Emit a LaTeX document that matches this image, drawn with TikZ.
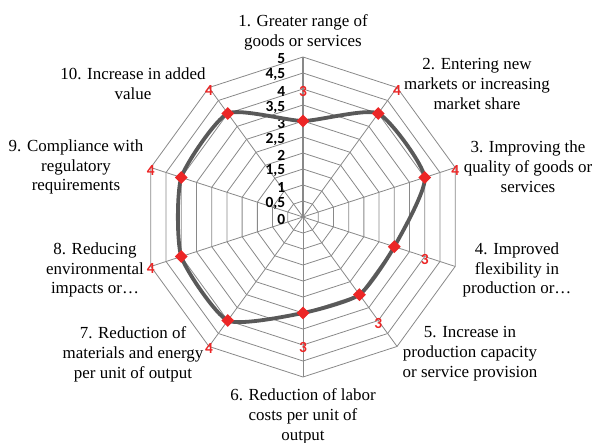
\documentclass[tikz,border=0pt]{standalone}
\usepackage{fontspec}
\setmainfont{Liberation Serif}
\newfontfamily\lblfont{Liberation Serif}
\newfontfamily\numfont{Carlito}
\usetikzlibrary{shapes.geometric}
\definecolor{gridgray}{RGB}{137,137,137}
\definecolor{dataline}{RGB}{89,89,89}
\definecolor{datared}{RGB}{236,38,38}
\begin{document}
\begin{tikzpicture}[x=1bp,y=-1bp,
  grid/.style={draw=gridgray, line width=0.8bp},
  lbl/.style={font=\lblfont\fontsize{17}{20}\selectfont, align=center, inner sep=0},
  axnum/.style={font=\numfont\bfseries\fontsize{15.5}{16}\selectfont, anchor=east, inner sep=0},
  dlab/.style={font=\numfont\bfseries\fontsize{15.5}{16}\selectfont, text=datared, inner sep=0, yshift=-2.5bp},
  marker/.style={diamond, fill=datared, minimum size=13bp, inner sep=0}]
\useasboundingbox (0,0) rectangle (595,443);
% grid rings
\foreach \r in {1,...,10} {
  \draw[grid] ({303},{217-16*\r})
    \foreach \a in {36,72,...,324} { -- ({303+16*\r*sin(\a)},{217-16*\r*cos(\a)}) } -- cycle;
}
% spokes
\coordinate (c) at (303,217);
\foreach \a [count=\k from 0] in {0,36,...,324} {
  \coordinate (s\k) at ({303+160*sin(\a)},{217-160*cos(\a)});
  \draw[grid] (c) -- (s\k);
}
\draw[draw=gridgray, line width=1.1bp] (c) -- (s0);
% value axis labels
\foreach \k/\t in {0/0, 1/{0,5}, 2/1, 3/{1,5}, 4/2, 5/{2,5}, 6/3, 7/{3,5}, 8/4, 9/{4,5}, 10/5} {
  \node[axnum] (v\k) at (285.5,{219-16*\k}) {\t};
}
% data points
\foreach \v [count=\i from 0] in {3,4,4,3,3,3,4,4,4,4} {
  \coordinate (p\i) at ({303+32*\v*sin(36*\i)},{217-32*\v*cos(36*\i)});
  \coordinate (l\i) at ({303+32*(\v+1)*sin(36*\i)},{217-32*(\v+1)*cos(36*\i)});
  \node[dlab] (d\i) at (l\i) {\v};
}
\draw[dataline, line width=3.8bp, line join=round] plot[smooth cycle, tension=0.35]
  coordinates {(p0) (p1) (p2) (p3) (p4) (p5) (p6) (p7) (p8) (p9)};
\foreach \i in {0,...,9} { \node[marker] (m\i) at (p\i) {}; }
% axis labels
\node[lbl] (t1) at (303,32) {1. Greater range of\\goods or services};
\node[lbl] (t2) at (477,84) {2. Entering new\\markets or increasing\\market share};
\node[lbl] (t3) at (528,167) {3. Improving the\\quality of goods or\\services};
\node[lbl] (t4) at (517,270) {4. Improved\\flexibility in\\production or…};
\node[lbl] (t5) at (470,354) {5. Increase in\\production capacity\\or service provision};
\node[lbl] (t6) at (303,416) {6. Reduction of labor\\costs per unit of\\output};
\node[lbl] (t7) at (133,354) {7. Reduction of\\materials and energy\\per unit of output};
\node[lbl] (t8) at (95,270) {8. Reducing\\environmental\\impacts or…};
\node[lbl] (t9) at (76,167) {9. Compliance with\\regulatory\\requirements};
\node[lbl] (t10) at (133,84) {10. Increase in added\\value};
\end{tikzpicture}
\end{document}
